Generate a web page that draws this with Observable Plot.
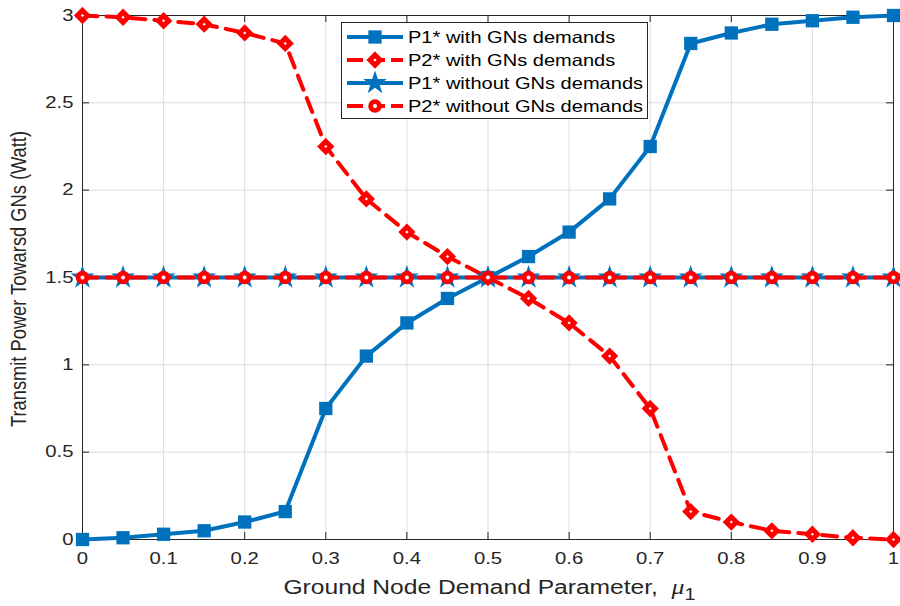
<!DOCTYPE html>
<html>
<head>
<meta charset="utf-8">
<script src="https://cdn.jsdelivr.net/npm/d3@7"></script>
<script src="https://cdn.jsdelivr.net/npm/@observablehq/plot@0.6"></script>
<style>
  html, body { margin: 0; padding: 0; background: #fff; }
  #chart { position: relative; width: 900px; height: 606px; }
  svg { font-family: "Liberation Sans", Arial, Helvetica, sans-serif; }
</style>
</head>
<body>
<div id="chart"></div>
<script>
// ---- data ----
const mu = [0, 0.05, 0.1, 0.15, 0.2, 0.25, 0.3, 0.35, 0.4, 0.45, 0.5, 0.55, 0.6, 0.65, 0.7, 0.75, 0.8, 0.85, 0.9, 0.95, 1];
const p1With = [0, 0.01, 0.03, 0.05, 0.1, 0.16, 0.75, 1.05, 1.24, 1.38, 1.5, 1.62, 1.76, 1.95, 2.25, 2.84, 2.9, 2.95, 2.97, 2.99, 3];
const p2With = [3, 2.99, 2.97, 2.95, 2.9, 2.84, 2.25, 1.95, 1.76, 1.62, 1.5, 1.38, 1.24, 1.05, 0.75, 0.16, 0.1, 0.05, 0.03, 0.01, 0];
const p1Without = [1.5, 1.5, 1.5, 1.5, 1.5, 1.5, 1.5, 1.5, 1.5, 1.5, 1.5, 1.5, 1.5, 1.5, 1.5, 1.5, 1.5, 1.5, 1.5, 1.5, 1.5];
const p2Without = [1.5, 1.5, 1.5, 1.5, 1.5, 1.5, 1.5, 1.5, 1.5, 1.5, 1.5, 1.5, 1.5, 1.5, 1.5, 1.5, 1.5, 1.5, 1.5, 1.5, 1.5];
const xTicks = [0, 0.1, 0.2, 0.3, 0.4, 0.5, 0.6, 0.7, 0.8, 0.9, 1];
const yTicks = [0, 0.5, 1, 1.5, 2, 2.5, 3];
const seriesNames = ["P1* with GNs demands", "P2* with GNs demands", "P1* without GNs demands", "P2* without GNs demands"];
const xLabel = "Ground Node Demand Parameter,";
const yLabel = "Transmit Power Towarsd GNs (Watt)";

const BLUE = "#0072BD", RED = "#FF0000", AX = "#262626";
const SX = 1.23; // horizontal stretch of text in the reference
const toRows = vals => mu.map((m, i) => ({x: m, y: vals[i]}));
const s1 = toRows(p1With), s2 = toRows(p2With), s3 = toRows(p1Without), s4 = toRows(p2Without);

const W = 900, H = 606, mL = 82, mR = 7, mT = 15, mB = 67;
const pw = W - mL - mR, ph = H - mT - mB;

const chart = Plot.plot({
  width: W, height: H,
  marginLeft: mL, marginRight: mR, marginTop: mT, marginBottom: mB,
  style: {fontFamily: '"Liberation Sans", Arial, sans-serif', fontSize: "16.5px", color: AX, background: "#fff"},
  x: {domain: [0, 1]},
  y: {domain: [0, 3]},
  marks: [
    Plot.gridX(xTicks, {stroke: "#dcdcdc", strokeOpacity: 1, strokeWidth: 1}),
    Plot.gridY(yTicks, {stroke: "#dcdcdc", strokeOpacity: 1, strokeWidth: 1}),
    Plot.axisX(xTicks, {tickSize: 0, tickPadding: 13, fontSize: 16.5, fill: AX, label: null, tickFormat: d => String(d)}),
    Plot.axisY(yTicks, {tickSize: 0, tickPadding: 9, fontSize: 16.5, fill: AX, label: null, tickFormat: d => String(d)}),
    Plot.tickX(xTicks, {x: d => d, insetTop: ph - 7, stroke: AX}),
    Plot.tickX(xTicks, {x: d => d, insetBottom: ph - 7, stroke: AX}),
    Plot.tickY(yTicks, {y: d => d, insetRight: pw - 7, stroke: AX}),
    Plot.tickY(yTicks, {y: d => d, insetLeft: pw - 7, stroke: AX}),
    Plot.frame({stroke: AX, strokeWidth: 1}),
    // P1 with
    Plot.line(s1, {x: "x", y: "y", stroke: BLUE, strokeWidth: 4}),
    Plot.dot(s1, {x: "x", y: "y", symbol: "square", r: 7.5, fill: BLUE, stroke: "none"}),
    // P2 with
    Plot.line(s2, {x: "x", y: "y", stroke: RED, strokeWidth: 4, strokeDasharray: "15,9"}),
    Plot.dot(s2, {x: "x", y: "y", symbol: "diamond2", r: 4.6, fill: "white", stroke: RED, strokeWidth: 5}),
    // P1 without
    Plot.line(s3, {x: "x", y: "y", stroke: BLUE, strokeWidth: 4}),
    Plot.dot(s3, {x: "x", y: "y", symbol: "star", r: 7.5, fill: BLUE, stroke: "none"}),
    // P2 without
    Plot.line(s4, {x: "x", y: "y", stroke: RED, strokeWidth: 4, strokeDasharray: "15,9"}),
    Plot.dot(s4, {x: "x", y: "y", symbol: "circle", r: 4.4, fill: "white", stroke: RED, strokeWidth: 4.8})
  ]
});
document.getElementById("chart").appendChild(chart);

const svg = d3.select(chart);

// stretch tick labels horizontally like the reference
svg.selectAll('g[aria-label="x-axis tick label"] text, g[aria-label="y-axis tick label"] text').each(function () {
  const el = d3.select(this);
  let tr = el.attr("transform");
  if (!tr) {
    const x = +(el.attr("x") || 0), y = +(el.attr("y") || 0);
    tr = `translate(${x},${y})`;
    el.attr("x", null).attr("y", null);
  }
  el.attr("transform", tr + ` scale(${SX},1)`);
});

// x label with italic mu subscript 1
const xl = svg.append("text").attr("transform", `translate(${mL + pw / 2 + 2},594) scale(${SX},1)`)
  .attr("text-anchor", "middle").attr("font-size", 20).attr("fill", AX);
xl.append("tspan").text(xLabel + "\u00a0\u00a0");
xl.append("tspan").attr("font-style", "italic").attr("font-family", "Liberation Serif, serif").attr("font-size", 21).text("\u03bc");
xl.append("tspan").attr("dy", 6).attr("font-size", 16).text("1");

// y label
svg.append("text").attr("transform", `translate(26,${mT + ph / 2 + 2}) scale(${SX},1) rotate(-90)`)
  .attr("text-anchor", "middle").attr("font-size", 18.3).attr("fill", AX).text(yLabel);

// legend
const lg = svg.append("g");
lg.append("rect").attr("x", 341.5).attr("y", 22.5).attr("width", 306).attr("height", 96)
  .attr("fill", "white").attr("stroke", AX).attr("stroke-width", 1);
const styles = [
  {c: BLUE, dash: null, sym: d3.symbolSquare, r: 7.5, fill: BLUE, sw: 0},
  {c: RED, dash: "16,6", sym: d3.symbolDiamond2, r: 4.6, fill: "white", sw: 5},
  {c: BLUE, dash: null, sym: d3.symbolStar, r: 7.5, fill: BLUE, sw: 0},
  {c: RED, dash: "16,6", sym: d3.symbolCircle, r: 4.4, fill: "white", sw: 4.8}
];
seriesNames.forEach((name, i) => {
  const cy = 37 + i * 23, st = styles[i];
  lg.append("line").attr("x1", 347).attr("x2", 403).attr("y1", cy).attr("y2", cy)
    .attr("stroke", st.c).attr("stroke-width", 4).attr("stroke-dasharray", st.dash);
  lg.append("path").attr("d", d3.symbol(st.sym, st.r * st.r * Math.PI)())
    .attr("transform", `translate(375,${cy})`).attr("fill", st.fill)
    .attr("stroke", st.sw ? st.c : "none").attr("stroke-width", st.sw);
  lg.append("text").attr("transform", `translate(408,${cy}) scale(${SX},1)`).attr("dy", "0.35em")
    .attr("text-anchor", "start").attr("font-size", 16.3).attr("fill", "#000").text(name);
});
</script>
</body>
</html>
